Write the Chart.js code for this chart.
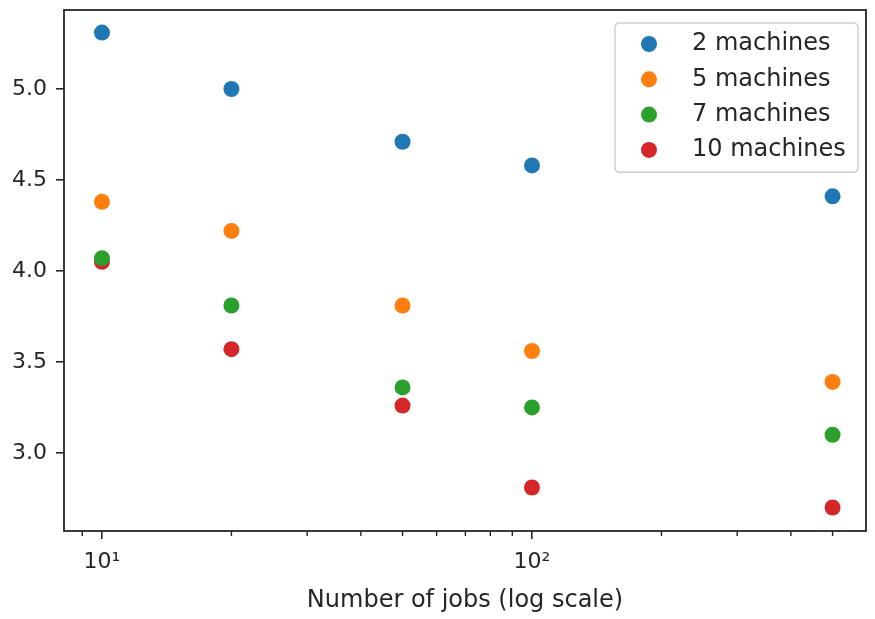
<!DOCTYPE html>
<html>
<head>
<meta charset="utf-8">
<script src="https://cdn.jsdelivr.net/npm/chart.js@4.4.1/dist/chart.umd.min.js"></script>
<style>
  html, body { margin: 0; padding: 0; background: #fff; overflow: hidden; }
  #wrap { width: 875px; height: 619px; }
</style>
</head>
<body>
<div id="wrap"><canvas id="c" width="875" height="619"></canvas></div>
<script>
// ---- data ----
const jobs = [10, 20, 50, 100, 500];
const seriesLabels = ["2 machines", "5 machines", "7 machines", "10 machines"];
const m2  = [5.31, 5.00, 4.71, 4.58, 4.41];
const m5  = [4.38, 4.22, 3.81, 3.56, 3.39];
const m7  = [4.07, 3.81, 3.36, 3.25, 3.10];
const m10 = [4.05, 3.57, 3.26, 2.81, 2.70];
const seriesValues = [m2, m5, m7, m10];
const colors = ["#1f77b4", "#ff7f0e", "#2ca02c", "#d62728"];
const yTicks = [3.0, 3.5, 4.0, 4.5, 5.0];
const xMajorTicks = [10, 100];
const xMajorLabels = ["10\u00B9", "10\u00B2"];
const xMinorTicks = [9, 20, 30, 40, 50, 60, 70, 80, 90, 200, 300, 400, 500];
const xTitle = "Number of jobs (log scale)";

const FONT = "'DejaVu Sans', sans-serif";
const INK = "#262626";

const datasets = seriesValues.map((vals, i) => ({
  label: seriesLabels[i],
  data: jobs.map((x, j) => ({ x: x, y: vals[j] })),
  backgroundColor: colors[i],
  borderColor: colors[i],
  borderWidth: 0,
  pointRadius: 8,
  pointHoverRadius: 8,
  clip: false
}));

const framePlugin = {
  id: 'frame',
  afterDraw(chart) {
    const { ctx, chartArea: a, scales } = chart;
    ctx.save();
    ctx.strokeStyle = INK;
    ctx.lineWidth = 1.4;
    xMinorTicks.forEach(v => {
      const px = scales.x.getPixelForValue(v);
      ctx.beginPath();
      ctx.moveTo(px, a.bottom);
      ctx.lineTo(px, a.bottom + 5);
      ctx.stroke();
    });
    ctx.lineWidth = 1.8;
    ctx.strokeStyle = INK;
    ctx.strokeRect(a.left, a.top, a.right - a.left, a.bottom - a.top);
    ctx.restore();
  }
};

const legendPlugin = {
  id: 'innerLegend',
  afterDraw(chart) {
    const { ctx, chartArea: a } = chart;
    const boxR = a.right - 8;
    const boxL = 615;
    const boxT = a.top + 13;
    const rowH = 35.3;
    const n = chart.data.datasets.length;
    const boxH = rowH * n + 8;
    ctx.save();
    ctx.fillStyle = "rgba(255,255,255,0.85)";
    ctx.strokeStyle = "#d0d0d0";
    ctx.lineWidth = 1.5;
    const r = 5;
    ctx.beginPath();
    ctx.moveTo(boxL + r, boxT);
    ctx.lineTo(boxR - r, boxT);
    ctx.quadraticCurveTo(boxR, boxT, boxR, boxT + r);
    ctx.lineTo(boxR, boxT + boxH - r);
    ctx.quadraticCurveTo(boxR, boxT + boxH, boxR - r, boxT + boxH);
    ctx.lineTo(boxL + r, boxT + boxH);
    ctx.quadraticCurveTo(boxL, boxT + boxH, boxL, boxT + boxH - r);
    ctx.lineTo(boxL, boxT + r);
    ctx.quadraticCurveTo(boxL, boxT, boxL + r, boxT);
    ctx.closePath();
    ctx.fill();
    ctx.stroke();
    ctx.font = "24px " + FONT;
    ctx.textBaseline = "middle";
    ctx.textAlign = "left";
    chart.data.datasets.forEach((ds, i) => {
      const cy = boxT + 21 + i * rowH;
      ctx.fillStyle = ds.backgroundColor;
      ctx.beginPath();
      ctx.arc(649, cy, 8, 0, Math.PI * 2);
      ctx.fill();
      ctx.fillStyle = INK;
      ctx.fillText(ds.label, 692, cy);
    });
    ctx.restore();
  }
};

new Chart(document.getElementById('c'), {
  type: 'scatter',
  data: { datasets },
  plugins: [framePlugin, legendPlugin],
  options: {
    responsive: false,
    animation: false,
    events: [],
    layout: { padding: { top: 10, right: 9, left: 0, bottom: 0 } },
    plugins: { legend: { display: false }, tooltip: { enabled: false }, title: { display: false } },
    scales: {
      x: {
        type: 'logarithmic',
        min: 8.16,
        max: 598,
        afterFit(s) { s.height = 88; s.paddingLeft = 0; s.paddingRight = 0; },
        afterBuildTicks(s) { s.ticks = xMajorTicks.map(v => ({ value: v, major: true })); },
        ticks: {
          autoSkip: false,
          maxRotation: 0,
          padding: 10,
          color: INK,
          font: { family: FONT, size: 22 },
          callback(v) { const i = xMajorTicks.indexOf(v); return i >= 0 ? xMajorLabels[i] : ''; }
        },
        grid: { drawOnChartArea: false, drawTicks: true, tickLength: 8, color: INK, lineWidth: 1.6 },
        border: { display: false },
        title: { display: true, text: xTitle, color: INK, font: { family: FONT, size: 24 }, padding: { top: 0, bottom: 4 } }
      },
      y: {
        min: 2.571,
        max: 5.434,
        afterFit(s) { s.width = 64; s.paddingTop = 0; s.paddingBottom = 0; },
        afterBuildTicks(s) { s.ticks = yTicks.map(v => ({ value: v })); },
        ticks: {
          padding: 9,
          color: INK,
          font: { family: FONT, size: 22 },
          callback(v) { return Number(v).toFixed(1); }
        },
        grid: { drawOnChartArea: false, drawTicks: true, tickLength: 8, color: INK, lineWidth: 1.6 },
        border: { display: false }
      }
    }
  }
});
</script>
</body>
</html>
